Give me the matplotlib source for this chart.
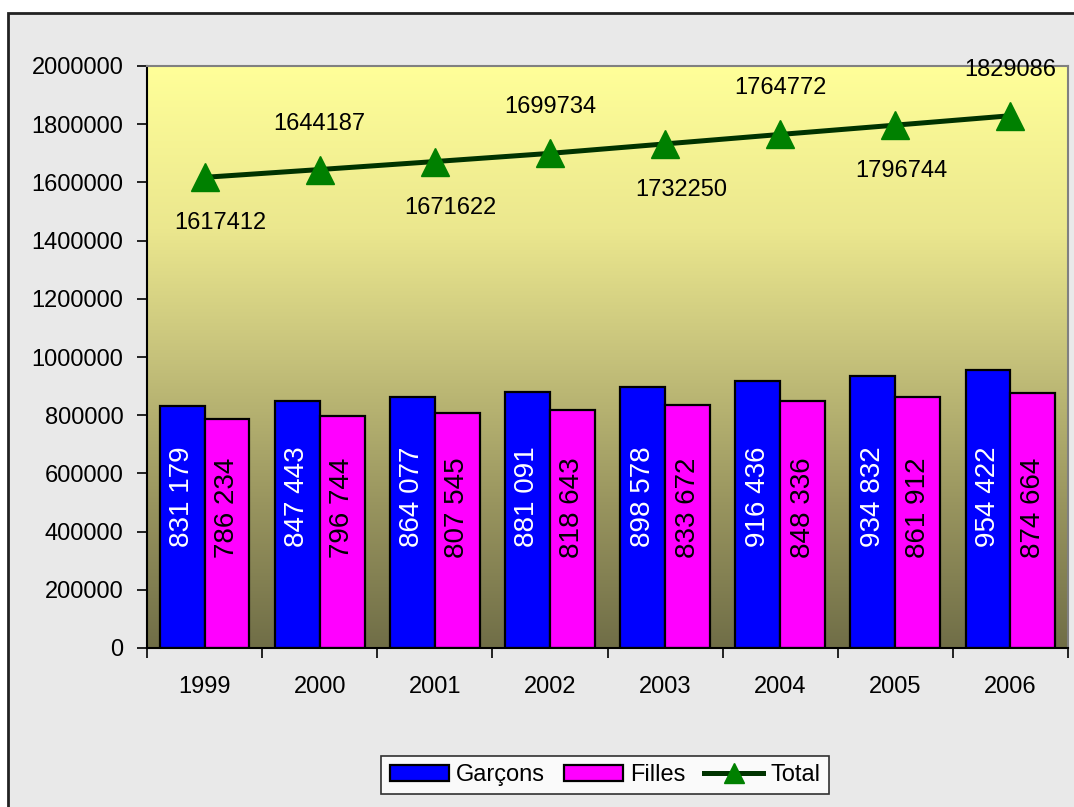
import numpy as np
import matplotlib
matplotlib.use("Agg")
import matplotlib.pyplot as plt
from matplotlib.colors import LinearSegmentedColormap
from matplotlib.patches import Rectangle, Patch
from matplotlib.lines import Line2D

plt.rcParams["font.family"] = ["Liberation Sans", "DejaVu Sans"]

years = ["1999", "2000", "2001", "2002", "2003", "2004", "2005", "2006"]
garcons = [831179, 847443, 864077, 881091, 898578, 916436, 934832, 954422]
filles = [786234, 796744, 807545, 818643, 833672, 848336, 861912, 874664]
total = [1617412, 1644187, 1671622, 1699734, 1732250, 1764772, 1796744, 1829086]

W, H = 1074, 807
fig = plt.figure(figsize=(W / 100, H / 100), dpi=100, facecolor="white")

# outer frame with light grey fill, behind everything
fig.patches.append(Rectangle((8 / W, -0.02), 1.0, (H - 13) / H + 0.02,
                             transform=fig.transFigure, facecolor="#e9e9e9",
                             edgecolor="#222222", lw=2, zorder=-10))

ax = fig.add_axes([147 / W, (H - 648) / H, (1068 - 147) / W, (648 - 66) / H])
ax.set_facecolor("none")

# plot area gradient: pale yellow at top to olive at bottom
cmap = LinearSegmentedColormap.from_list(
    "olive", [(0.0, "#706e47"), (0.25, "#99955f"), (0.5, "#c6c27b"),
              (0.72, "#ebe78e"), (1.0, "#ffff99")])
grad = np.linspace(0, 1, 256).reshape(-1, 1)
ax.imshow(grad, cmap=cmap, origin="lower", aspect="auto",
          extent=[0, 1, 0, 1], transform=ax.transAxes, zorder=0)

x = np.arange(len(years))
bw = 0.39
ax.bar(x - bw / 2, garcons, bw, color="#0000ff", edgecolor="black", lw=1.6, zorder=2)
ax.bar(x + bw / 2, filles, bw, color="#ff00ff", edgecolor="black", lw=1.6, zorder=2)

for i in range(len(years)):
    ax.text(x[i] - bw / 2, 519000, f"{garcons[i]:,}".replace(",", " "), rotation=90,
            ha="center", va="center", color="white", fontsize=20, zorder=3)
    ax.text(x[i] + bw / 2, 481000, f"{filles[i]:,}".replace(",", " "), rotation=90,
            ha="center", va="center", color="black", fontsize=20, zorder=3)

ax.plot(x, total, color="#003300", lw=3.6, marker="^", ms=20,
        markerfacecolor="#008000", markeredgecolor="#008000", zorder=4)
for i, v in enumerate(total):
    if i % 2 == 0:
        ax.annotate(str(v), (x[i], v), xytext=(16 if i < 6 else 6, -46),
                    textcoords="offset pixels", ha="center", va="center",
                    fontsize=17, zorder=5, annotation_clip=False)
    else:
        ax.annotate(str(v), (x[i], v), xytext=(0, 46),
                    textcoords="offset pixels", ha="center", va="center",
                    fontsize=17, zorder=5, annotation_clip=False)

ax.set_xlim(-0.5, len(years) - 0.5)
ax.set_ylim(0, 2000000)
ax.set_yticks(np.arange(0, 2000001, 200000))
ax.set_yticklabels([str(v) for v in range(0, 2000001, 200000)], fontsize=17)
ax.set_xticks(x)
ax.set_xticklabels(years, fontsize=17)
ax.set_xticks(np.arange(-0.5, len(years), 1), minor=True)
ax.tick_params(axis="x", which="major", length=0, pad=20)
ax.tick_params(axis="x", which="minor", length=7, width=1.2, direction="out")
ax.tick_params(axis="y", length=7, width=1.2, direction="out", pad=10)

for s in ["top", "right"]:
    ax.spines[s].set_color("#808080")
    ax.spines[s].set_linewidth(1.5)
for s in ["left", "bottom"]:
    ax.spines[s].set_color("black")
    ax.spines[s].set_linewidth(1.5)

handles = [Patch(facecolor="#0000ff", edgecolor="black", lw=1.6),
           Patch(facecolor="#ff00ff", edgecolor="black", lw=1.6),
           Line2D([], [], color="#003300", lw=3.6, marker="^", ms=14,
                  markerfacecolor="#008000", markeredgecolor="#008000")]
leg = fig.legend(handles, ["Garçons", "Filles", "Total"], ncol=3, loc="center",
                 bbox_to_anchor=(605 / W, (H - 775) / H), fontsize=17,
                 frameon=True, fancybox=False, edgecolor="black",
                 handlelength=2.5, handleheight=0.65, handletextpad=0.3,
                 columnspacing=0.8, borderpad=0.35, borderaxespad=0)
leg.get_frame().set_linewidth(1.2)
leg.get_frame().set_facecolor("white")

fig.savefig("out.png", dpi=100)
